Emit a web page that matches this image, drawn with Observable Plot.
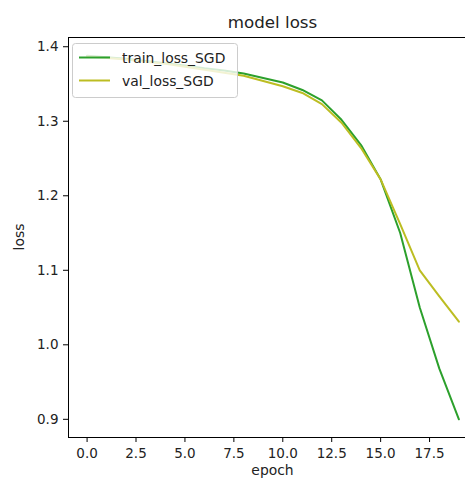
<!DOCTYPE html>
<html>
<head>
<meta charset="utf-8">
<script src="https://cdn.jsdelivr.net/npm/d3@7"></script>
<script src="https://cdn.jsdelivr.net/npm/@observablehq/plot@0.6"></script>
<style>
  html, body { margin: 0; padding: 0; background: #fff; overflow: hidden; }
  #chart svg { overflow: hidden !important; display: block; }
</style>
</head>
<body>
<div id="chart"></div>
<script>
const epochs = [0,1,2,3,4,5,6,7,8,9,10,11,12,13,14,15,16,17,18,19];
const trainLoss = [1.388,1.386,1.384,1.381,1.378,1.375,1.371,1.368,1.364,1.358,1.352,1.342,1.328,1.302,1.268,1.222,1.150,1.050,0.968,0.900];
const valLoss   = [1.387,1.385,1.383,1.380,1.377,1.373,1.369,1.365,1.361,1.354,1.347,1.338,1.323,1.298,1.264,1.222,1.162,1.100,1.065,1.031];
const seriesNames = ["train_loss_SGD", "val_loss_SGD"];
const seriesColors = ["#2ca02c", "#bcbd22"];
const xTicks = [0, 2.5, 5, 7.5, 10, 12.5, 15, 17.5];
const yTicks = [0.9, 1.0, 1.1, 1.2, 1.3, 1.4];

const trainData = epochs.map((e, i) => ({epoch: e, loss: trainLoss[i]}));
const valData = epochs.map((e, i) => ({epoch: e, loss: valLoss[i]}));

// matplotlib-like 5% margins
const xExt = d3.extent(epochs);
const xPad = (xExt[1] - xExt[0]) * 0.05;
const allY = trainLoss.concat(valLoss);
const yExt = d3.extent(allY);
const yPad = (yExt[1] - yExt[0]) * 0.05;

const W = 465, H = 479;
const mL = 68, mT = 37, mB = 42, mR = -12;

const plot = Plot.plot({
  width: W,
  height: H,
  marginLeft: mL,
  marginTop: mT,
  marginBottom: mB,
  marginRight: mR,
  style: {fontFamily: "'DejaVu Sans', sans-serif", fontSize: "13.5px", color: "#000", background: "#fff"},
  x: {domain: [xExt[0] - xPad, xExt[1] + xPad]},
  y: {domain: [yExt[0] - yPad, yExt[1] + yPad]},
  marks: [
    Plot.axisX({ticks: xTicks, tickFormat: d3.format(".1f"), tickSize: 5, tickPadding: 6, label: null, fill: "#222"}),
    Plot.axisY({ticks: yTicks, tickFormat: d3.format(".1f"), tickSize: 5, tickPadding: 5, label: null, fill: "#222"}),
    Plot.line(trainData, {x: "epoch", y: "loss", stroke: seriesColors[0], strokeWidth: 2}),
    Plot.line(valData, {x: "epoch", y: "loss", stroke: seriesColors[1], strokeWidth: 2}),
    Plot.frame({stroke: "#000", strokeWidth: 1})
  ]
});

const svg = d3.select(plot);
const font = "'DejaVu Sans', sans-serif";

// title
svg.append("text")
  .attr("x", (mL + W - mR) / 2).attr("y", 28)
  .attr("text-anchor", "middle")
  .attr("font-family", font).attr("font-size", "16.7px").attr("fill", "#222")
  .text("model loss");

// axis labels
svg.append("text")
  .attr("x", (mL + W - mR) / 2).attr("y", 474.5)
  .attr("text-anchor", "middle")
  .attr("font-family", font).attr("font-size", "13.9px").attr("fill", "#222")
  .text("epoch");
svg.append("text")
  .attr("transform", `translate(24,${(mT + H - mB) / 2}) rotate(-90)`)
  .attr("text-anchor", "middle")
  .attr("font-family", font).attr("font-size", "13.9px").attr("fill", "#222")
  .text("loss");

// legend (upper left)
const lg = svg.append("g");
lg.append("rect")
  .attr("x", 72.5).attr("y", 43.5).attr("width", 165).attr("height", 54)
  .attr("rx", 3).attr("fill", "#fff").attr("fill-opacity", 0.8)
  .attr("stroke", "#cccccc").attr("stroke-width", 1);
seriesNames.forEach((name, i) => {
  const yy = 57.5 + i * 23;
  lg.append("line")
    .attr("x1", 79).attr("x2", 110).attr("y1", yy).attr("y2", yy)
    .attr("stroke", seriesColors[i]).attr("stroke-width", 2);
  lg.append("text")
    .attr("x", 122).attr("y", yy + 5.2)
    .attr("text-anchor", "start")
    .attr("font-family", font).attr("font-size", "13.9px").attr("fill", "#222")
    .text(name);
});

document.getElementById("chart").appendChild(plot);
</script>
</body>
</html>
